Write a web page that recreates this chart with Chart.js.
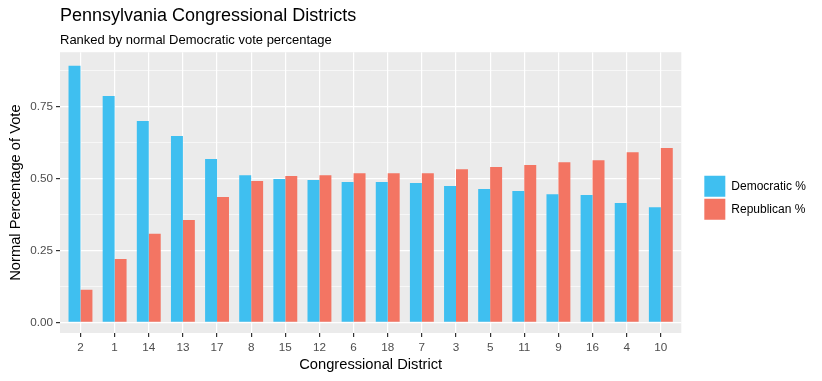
<!DOCTYPE html>
<html>
<head>
<meta charset="utf-8">
<script src="https://cdn.jsdelivr.net/npm/chart.js@4.4.1/dist/chart.umd.min.js"></script>
<style>
  html, body { margin: 0; padding: 0; background: #ffffff; }
  #wadah { width: 822px; height: 381px; }
</style>
</head>
<body>
<div id="wadah"><canvas id="distrik" width="822" height="381"></canvas></div>
<script>
"use strict";

// data
var districts = ["2", "1", "14", "13", "17", "8", "15", "12", "6", "18", "7", "3", "5", "11", "9", "16", "4", "10"];
var demPct = [0.891, 0.786, 0.699, 0.647, 0.567, 0.511, 0.498, 0.494, 0.487, 0.487, 0.484, 0.473, 0.463, 0.456, 0.445, 0.442, 0.414, 0.400];
var repPct = [0.113, 0.220, 0.308, 0.355, 0.435, 0.491, 0.508, 0.511, 0.518, 0.518, 0.518, 0.532, 0.539, 0.546, 0.556, 0.563, 0.591, 0.605];
var yMajor = [0, 0.25, 0.5, 0.75];

Chart.defaults.font.family = "'Liberation Sans', Arial, sans-serif";

function toPoints(arr) {
  return arr.map(function (v, i) {
    return { x: i + 1, y: v };
  });
}

function isMajor(v) {
  return yMajor.some(function (m) {
    return Math.abs(m - v) < 1e-6;
  });
}

// latar abu-abu panel ala ggplot
var panelBg = {
  id: "panelBg",
  beforeDraw: function (chart) {
    var a = chart.chartArea;
    var ctx = chart.ctx;
    ctx.save();
    ctx.fillStyle = "#ebebeb";
    ctx.fillRect(a.left, a.top, a.right - a.left, a.bottom - a.top);
    ctx.restore();
  },
};

var ctxDistrik = document.getElementById("distrik").getContext("2d");

let diagramDistrik = new Chart(ctxDistrik, {
  type: "bar",
  data: {
    datasets: [
      {
        label: "Democratic %",
        data: toPoints(demPct),
        backgroundColor: "#3fbff0",
        borderWidth: 0,
        categoryPercentage: 0.7,
        barPercentage: 1.0,
      },
      {
        label: "Republican %",
        data: toPoints(repPct),
        backgroundColor: "#f37563",
        borderWidth: 0,
        categoryPercentage: 0.7,
        barPercentage: 1.0,
      },
    ],
  },
  plugins: [panelBg],
  options: {
    responsive: false,
    animation: false,
    layout: { padding: { left: 0, right: 6, top: 0, bottom: 0 } },
    plugins: {
      title: {
        display: true,
        text: "Pennsylvania Congressional Districts",
        align: "start",
        fullSize: false,
        color: "#000000",
        font: { size: 18, weight: "normal" },
        padding: { top: 5, bottom: 0 },
      },
      subtitle: {
        display: true,
        text: "Ranked by normal Democratic vote percentage",
        align: "start",
        fullSize: false,
        color: "#000000",
        font: { size: 13 },
        padding: { top: 6, bottom: 4 },
      },
      legend: {
        position: "right",
        fullSize: false,
        // judul kosong, cuma buat geser legenda sedikit ke bawah
        title: {
          display: true,
          text: "",
          font: { size: 1 },
          padding: { top: 9, bottom: 0 },
        },
        labels: {
          boxWidth: 21,
          boxHeight: 21,
          padding: 2,
          color: "#000000",
          font: { size: 12 },
        },
      },
      tooltip: { enabled: false },
    },
    scales: {
      x: {
        type: "linear",
        min: 0.4,
        max: 18.6,
        offset: false,
        grid: {
          offset: false,
          color: "#ffffff",
          lineWidth: 1.2,
          tickColor: "#333333",
          tickLength: 4,
        },
        border: { display: false },
        ticks: {
          stepSize: 1,
          includeBounds: false,
          autoSkip: false,
          maxRotation: 0,
          color: "#4d4d4d",
          font: { size: 11.7 },
          padding: 4,
          callback: function (v) {
            return Number.isInteger(v) && v >= 1 && v <= districts.length ? districts[v - 1] : "";
          },
        },
        title: {
          display: true,
          text: "Congressional District",
          color: "#000000",
          font: { size: 14.7 },
          padding: { top: 0, bottom: 7 },
        },
        afterFit: function (scale) {
          scale.height = 48;
        },
      },
      y: {
        type: "linear",
        min: -0.037,
        max: 0.938,
        grid: {
          color: "#ffffff",
          lineWidth: function (c) {
            return isMajor(c.tick.value) ? 1.2 : 0.6;
          },
          tickColor: function (c) {
            return isMajor(c.tick.value) ? "#333333" : "rgba(0,0,0,0)";
          },
          tickLength: 4,
        },
        border: { display: false },
        ticks: {
          stepSize: 0.125,
          includeBounds: false,
          color: "#4d4d4d",
          font: { size: 11.7 },
          padding: 3,
          callback: function (v) {
            return isMajor(v) ? v.toFixed(2) : "";
          },
        },
        title: {
          display: true,
          text: "Normal Percentage of Vote",
          color: "#000000",
          font: { size: 14.7 },
          padding: { top: 7, bottom: 0 },
        },
        afterFit: function (scale) {
          scale.width = 60;
        },
      },
      // jarak kosong antara panel dan legenda
      gap: {
        type: "linear",
        position: "right",
        grid: { display: false },
        border: { display: false },
        ticks: { display: false },
        afterFit: function (scale) {
          scale.width = 21;
        },
      },
    },
  },
});
</script>
</body>
</html>
